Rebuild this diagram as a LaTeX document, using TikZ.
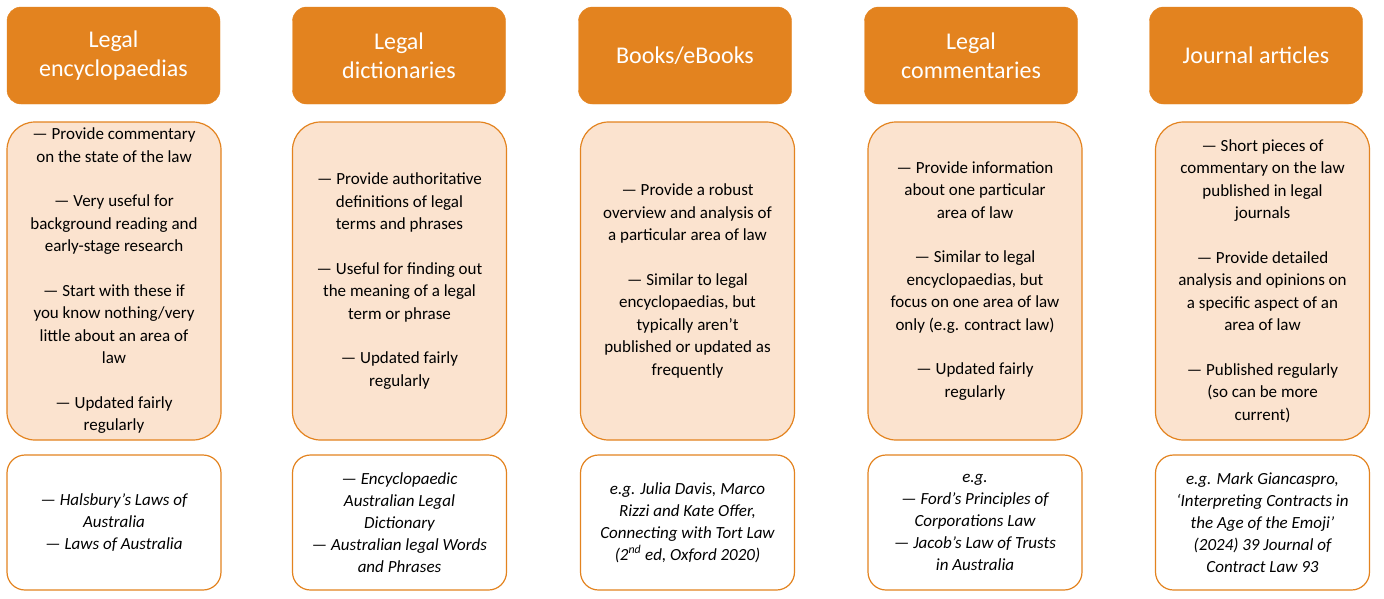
\documentclass[tikz,border=0pt]{standalone}
\usepackage{fontspec}
\setmainfont{Carlito}
\definecolor{org}{HTML}{E3831F}
\definecolor{peach}{HTML}{FBE3CF}
\begin{document}
\begin{tikzpicture}[x=1pt,y=-1pt,
 head/.style={draw=org,fill=org,rounded corners=14pt,minimum width=213pt,minimum height=97pt,align=center,text=white,font=\fontsize{24}{29}\selectfont},
 mid/.style={draw=org,line width=1.2pt,fill=peach,rounded corners=28pt,minimum width=214pt,minimum height=318pt,align=center,font=\fontsize{17}{22.5}\selectfont},
 bot/.style={draw=org,line width=1.2pt,fill=white,rounded corners=18pt,minimum width=214pt,minimum height=135pt,align=center,font=\fontsize{17}{22}\selectfont\itshape}]
\useasboundingbox (0,0) rectangle (1384,598);
\node[head] (h1) at (113.5,55.5) {Legal\\encyclopaedias};
\node[head] (h2) at (399,55.5) {Legal\\dictionaries};
\node[head] (h3) at (685,55.5) {Books/eBooks};
\node[head] (h4) at (971,55.5) {Legal\\commentaries};
\node[head] (h5) at (1256,55.5) {Journal articles};
\node[mid] (m1) at (114,281) {— Provide commentary\\on the state of the law\\[22pt] — Very useful for\\background reading and\\early-stage research\\[22pt] — Start with these if\\you know nothing/very\\little about an area of\\law\\[22pt] — Updated fairly\\regularly};
\node[mid] (m2) at (399.5,281) {— Provide authoritative\\definitions of legal\\terms and phrases\\[22pt] — Useful for finding out\\the meaning of a legal\\term or phrase\\[22pt] — Updated fairly\\regularly};
\node[mid] (m3) at (687.5,281) {— Provide a robust\\overview and analysis of\\a particular area of law\\[22pt] — Similar to legal\\encyclopaedias, but\\typically aren’t\\published or updated as\\frequently};
\node[mid] (m4) at (975,281) {— Provide information\\about one particular\\area of law\\[22pt] — Similar to legal\\encyclopaedias, but\\focus on one area of law\\only (e.g. contract law)\\[22pt] — Updated fairly\\regularly};
\node[mid] (m5) at (1262.5,281) {— Short pieces of\\commentary on the law\\published in legal\\journals\\[22pt] — Provide detailed\\analysis and opinions on\\a specific aspect of an\\area of law\\[22pt] — Published regularly\\(so can be more\\current)};
\node[bot] (b1) at (114,522.5) {— Halsbury’s Laws of\\Australia\\ — Laws of Australia};
\node[bot] (b2) at (399.5,522.5) {— Encyclopaedic\\Australian Legal\\Dictionary\\ — Australian legal Words\\and Phrases};
\node[bot] (b3) at (687.5,522.5) {e.g. Julia Davis, Marco\\Rizzi and Kate Offer,\\Connecting with Tort Law\\(2\textsuperscript{nd} ed, Oxford 2020)};
\node[bot] (b4) at (975,522.5) {e.g.\\ — Ford’s Principles of\\Corporations Law\\ — Jacob’s Law of Trusts\\in Australia};
\node[bot] (b5) at (1262.5,522.5) {e.g. Mark Giancaspro,\\‘Interpreting Contracts in\\the Age of the Emoji’\\(2024) 39 Journal of\\Contract Law 93};
\end{tikzpicture}
\end{document}
